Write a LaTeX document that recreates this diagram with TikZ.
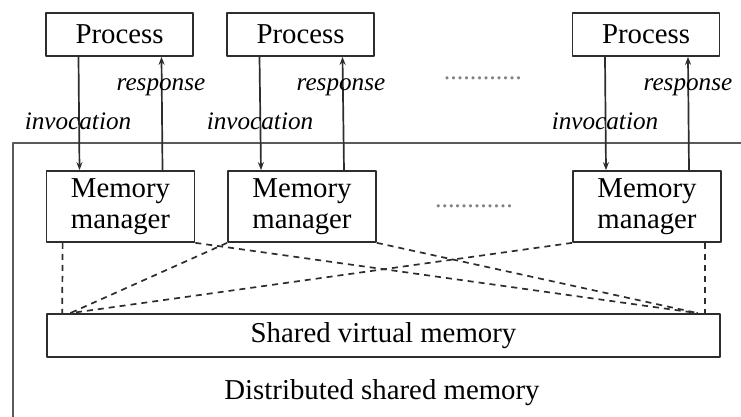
\documentclass[tikz,border=0pt]{standalone}
\usepackage{fontspec}
\setmainfont{Liberation Serif}
\usetikzlibrary{arrows.meta,calc}
\definecolor{lnc}{RGB}{45,45,45}
\definecolor{frc}{RGB}{90,90,90}

\begin{document}
\begin{tikzpicture}[x=0.5pt,y=-0.5pt,line join=round,
  box/.style={draw=lnc,line width=0.85pt,inner sep=0pt,font=\fontsize{14.4}{15.2}\selectfont},
  procbox/.style={box,minimum width=73.5pt,minimum height=21.5pt},
  mmbox/.style={box,minimum width=74pt,minimum height=35.5pt,align=center},
  lbl/.style={font=\fontsize{12.6}{14}\selectfont\itshape},
  dots/.style={font=\fontsize{13}{15}\selectfont,text=gray},
  flow/.style={draw=lnc,line width=0.85pt,-{Stealth[length=4pt,width=3pt]}},
  share/.style={draw=lnc,line width=0.85pt,dashed,dash pattern=on 3pt off 2.5pt}]
  \useasboundingbox (0,0) rectangle (741,417);
  \draw[frc,line width=0.9pt] (741,143)--(13,143)--(13,417);
  % processes and memory managers
  \node[procbox] (p1) at (119.5,34.5) {Process};
  \node[procbox] (p2) at (300.5,34.5) {Process};
  \node[procbox] (p3) at (646,34.5) {Process};
  \node[mmbox] (m1) at (120.5,206.5) {Memory\\manager};
  \node[mmbox] (m2) at (302,206.5) {Memory\\manager};
  \node[mmbox] (m3) at (647,206.5) {Memory\\manager};
  \node[box,minimum width=336.5pt,minimum height=21.5pt] (svm) at (383.5,335.5) {Shared virtual memory};
  \node[font=\fontsize{14.4}{16.5}\selectfont] (dsm) at (382,393) {Distributed shared memory};
  \node[dots] (d1) at (483,78) {............};
  \node[dots] (d2) at (474,206) {............};
  % invocation and response
  \foreach \i in {1,2,3}{
    \draw[flow] ($(p\i.south)+(-41,0)$) -- ($(m\i.north)+(-41,0)$);
    \draw[flow] ($(m\i.north)+(42,0)$) -- ($(p\i.south)+(42,0)$);
  }
  \node[lbl] (r1) at (161,87) {response};
  \node[lbl] (r2) at (341,87) {response};
  \node[lbl] (r3) at (688,87) {response};
  \node[lbl] (i1) at (78,121) {invocation};
  \node[lbl] (i2) at (260,121) {invocation};
  \node[lbl] (i3) at (605,121) {invocation};
  % links to the shared memory
  \coordinate (sl) at ($(svm.north west)+(24,0)$);
  \coordinate (sr) at ($(svm.north east)+(-23,0)$);
  \draw[share] ($(m1.south west)+(17,0)$) -- ($(svm.north west)+(16,0)$);
  \draw[share] ($(m3.south east)+(-17,0)$) -- ($(svm.north east)+(-16,0)$);
  \draw[share] (m2.south west) -- (sl);
  \draw[share] (m3.south west) -- (sl);
  \draw[share] (m1.south east) -- (sr);
  \draw[share] (m2.south east) -- (sr);
\end{tikzpicture}
\end{document}
